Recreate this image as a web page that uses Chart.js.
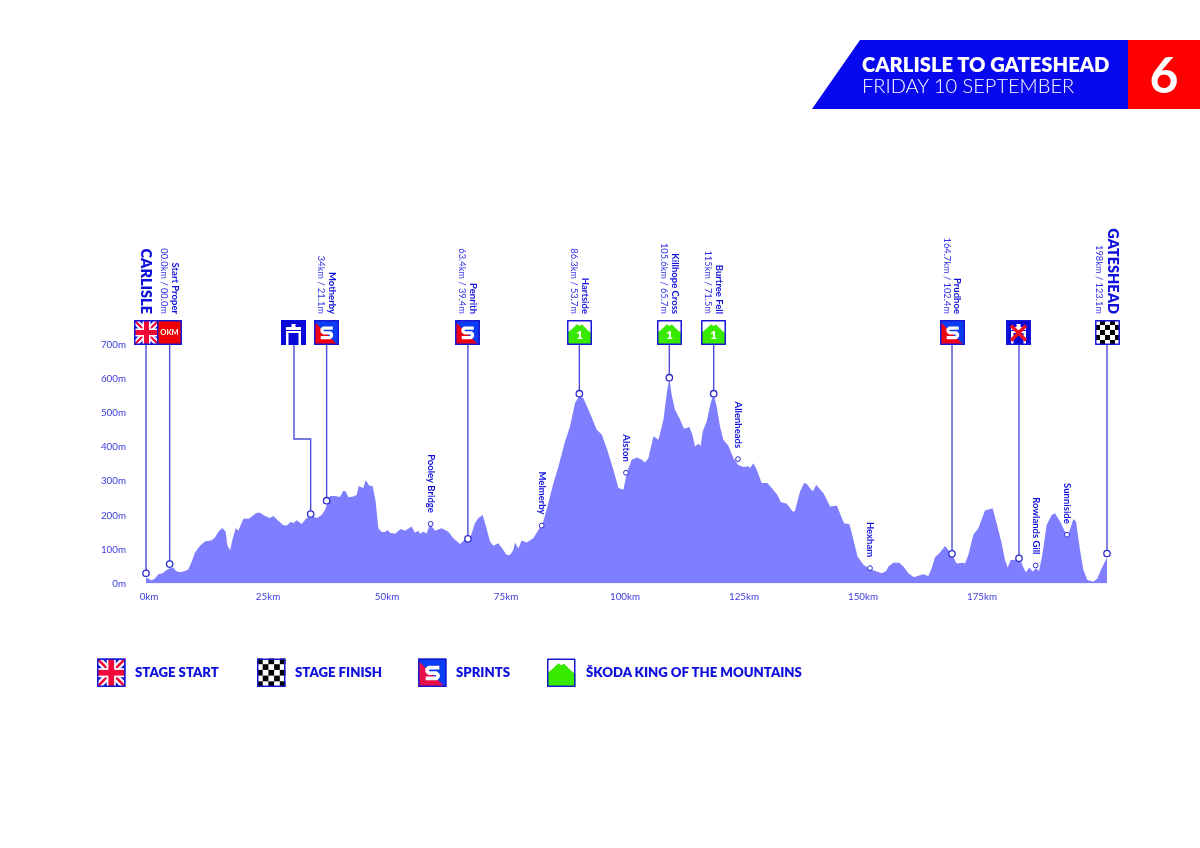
<!DOCTYPE html>
<html>
<head>
<meta charset="utf-8">
<title>Carlisle to Gateshead</title>
<script src="https://cdn.jsdelivr.net/npm/chart.js@4/dist/chart.umd.min.js"></script>
<style>
  html, body { margin: 0; background: #fff; }
  body { position: relative; width: 1200px; height: 848px; overflow: hidden; font-family: Lato, "Noto Sans", sans-serif; }
  canvas { display: block; position: absolute; left: 0; top: 0; }
  .banner { position: absolute; left: 812px; top: 40px; width: 317px; height: 69px; background: #0808ee; clip-path: polygon(48px 0, 100% 0, 100% 100%, 0 100%); }
  .stage-no { position: absolute; left: 1128px; top: 40px; width: 72px; height: 69px; background: #ff0000; color: #fff; font-size: 50px; font-weight: 700; line-height: 69px; text-align: center; }
  .title, .subtitle { position: absolute; left: 862px; color: #fff; white-space: nowrap; }
  .title { top: 52px; font-size: 20.2px; font-weight: 800; line-height: 25px; }
  .subtitle { top: 73px; font-size: 20px; font-weight: 300; line-height: 24px; }
  .legend-label { position: absolute; top: 664px; color: #1010dc; font-size: 13.2px; font-weight: 800; line-height: 16px; white-space: nowrap; }
</style>
</head>
<body>
<canvas id="profile" width="1200" height="848"></canvas>
<div class="banner"></div>
<div class="title">CARLISLE TO GATESHEAD</div>
<div class="subtitle">FRIDAY 10 SEPTEMBER</div>
<div class="stage-no">6</div>
<div class="legend-label" style="left:135px">STAGE START</div>
<div class="legend-label" style="left:295px">STAGE FINISH</div>
<div class="legend-label" style="left:456px">SPRINTS</div>
<div class="legend-label" style="left:586px">ŠKODA KING OF THE MOUNTAINS</div>
<script>
// Elevation profile
const profileKm = [
  -0.63, -0.14, 0.56, 1.26, 1.96, 2.87, 3.57, 4.27, 5.11, 5.67, 6.51, 7.56, 8.26, 8.96, 9.66, 10.71,
  11.76, 13.17, 13.87, 14.57, 15.41, 16.11, 16.46, 17.02, 17.51, 18.21, 18.77, 19.82, 21.08, 22.62, 23.32, 24.37,
  25.42, 26.12, 27.17, 28.22, 28.92, 29.83, 30.32, 31.02, 32.07, 33.12, 34.17, 35.36, 36.27, 36.97, 38.03, 39.08,
  40.13, 40.83, 41.39, 41.88, 42.93, 43.63, 44.05, 45.03, 45.52, 46.29, 46.99, 47.62, 48.18, 48.88, 49.58, 50.14,
  50.63, 51.68, 52.87, 53.78, 55.18, 55.88, 56.58, 56.93, 57.63, 58.33, 59.03, 60.08, 61.48, 62.89, 63.94, 65.34,
  66.39, 67.44, 68.49, 69.19, 70.1, 70.8, 71.64, 72.34, 73.39, 74.44, 75.14, 75.84, 76.54, 76.89, 77.59, 78.29,
  79.34, 80.74, 81.79, 82.84, 83.9, 84.95, 86, 87.4, 88.45, 89.5, 90.41, 91.25, 92.65, 94.06, 95.11, 96.16,
  97.56, 98.62, 99.67, 100.37, 101.42, 102.47, 103.53, 104.23, 104.92, 105.98, 107.03, 108.08, 108.78, 109.31, 109.8, 110.5,
  111.41, 112.39, 113.51, 114.14, 114.7, 115.41, 115.9, 116.32, 117.17, 118, 118.63, 119.26, 119.96, 120.66, 121.71, 122.76,
  123.81, 124.86, 125.92, 126.27, 126.97, 127.67, 128.72, 129.91, 130.82, 132.02, 132.72, 133.98, 135.24, 135.66, 136.78, 137.63,
  138.19, 139.24, 139.6, 140.16, 141.7, 143.1, 144.5, 145.55, 146.04, 147.16, 148, 148.85, 150.1, 151.15, 152.55, 153.96,
  154.87, 155.36, 156.37, 157.64, 158.62, 159.52, 160.71, 161.62, 162.67, 163.72, 164.42, 165.13, 166.18, 167.23, 167.93, 168.62,
  169.68, 170.94, 171.43, 172.13, 173.18, 174.23, 175.63, 177.24, 178.08, 179.13, 179.83, 180.39, 181.02, 181.72, 182.98, 183.54,
  184.24, 184.94, 185.64, 186.34, 186.97, 187.67, 188.58, 189.63, 190.34, 191.39, 192.44, 193.14, 194.19, 194.75, 195.59, 196.29,
  197.13, 198.39, 199.23, 200.14, 201.26
];
const profileElev = [
  17, 15, 9, 15, 27, 30, 38, 44, 47, 37, 33, 37, 41, 64, 91, 111,
  123, 127, 135, 152, 163, 152, 113, 97, 128, 162, 155, 190, 191, 208, 208, 198,
  192, 198, 184, 171, 170, 181, 177, 186, 175, 192, 197, 192, 201, 216, 257, 257,
  254, 272, 269, 253, 255, 260, 286, 280, 303, 287, 286, 241, 162, 151, 151, 157,
  149, 146, 160, 155, 167, 149, 155, 146, 152, 147, 175, 155, 162, 152, 133, 116,
  130, 133, 177, 192, 201, 167, 123, 111, 118, 98, 84, 84, 98, 120, 103, 126,
  120, 133, 157, 182, 236, 294, 343, 417, 461, 530, 551, 544, 500, 451, 437, 397,
  334, 280, 275, 324, 363, 370, 363, 355, 368, 432, 422, 481, 559, 603, 554, 510,
  486, 454, 459, 437, 402, 410, 404, 446, 476, 530, 557, 520, 461, 422, 404, 368,
  348, 342, 344, 339, 353, 334, 295, 295, 280, 260, 239, 234, 211, 211, 270, 295,
  292, 273, 273, 290, 265, 226, 229, 192, 177, 174, 128, 79, 55, 45, 37, 30,
  37, 50, 61, 61, 48, 30, 18, 23, 27, 22, 45, 77, 91, 110, 98, 87,
  59, 61, 59, 84, 143, 162, 214, 221, 177, 118, 69, 47, 69, 69, 74, 51,
  32, 47, 35, 45, 37, 84, 172, 201, 206, 182, 152, 143, 189, 182, 98, 40,
  10, 5, 15, 45, 76
];

const kmTicks = [0, 25, 50, 75, 100, 125, 150, 175];
const elevTicks = [0, 100, 200, 300, 400, 500, 600, 700];

// Stops with a signpost icon
const stopNames = ['CARLISLE', 'Start Proper', 'Motherby', 'Penrith', 'Hartside', 'Killhope Cross', 'Burtree Fell', 'Prudhoe', '', 'GATESHEAD'];
const stopDistances = ['', '00.0km / 00.0m', '34km / 21.1m', '63.4km / 39.4m', '86.3km / 53.7m', '105.6km / 65.7m', '115km / 71.5m', '164.7km / 102.4m', '', '198km / 123.1m'];
const stopIcons = ['flag', 'okm', 'sprint', 'sprint', 'kom', 'kom', 'kom', 'sprint', 'nofeed', 'finish'];
const stopKm = [-0.63, 4.34, 37.32, 67, 90.41, 109.31, 118.63, 168.7, 182.77, 201.26];
const stopElev = [30, 57, 243, 131, 557, 604, 557, 87, 74, 88];

// Feed zone: the line leaves the icon, steps sideways, then drops to the road
const feedKm = [30.46, 33.96];
const feedStepElev = 424;
const feedElev = 204;

// Places with only a small dot
const townNames = ['Pooley Bridge', 'Melmerby', 'Alston', 'Allenheads', 'Hexham', 'Rowlands Gill', 'Sunniside'];
const townKm = [59.17, 82.49, 100.2, 123.74, 151.47, 186.27, 192.86];
const townElev = [175, 170, 325, 365, 45, 53, 143];

const LINE_BLUE = '#4c4cd8';
const FONT = 'Lato, "Noto Sans", sans-serif';

/**
 * Icon painters, all work in a box of side s at (x, y)
 */
function box(ctx, x, y, s, fill) {
  ctx.fillStyle = fill;
  ctx.fillRect(x, y, s, s);
}

function frame(ctx, x, y, s) {
  ctx.strokeStyle = '#1818d0';
  ctx.lineWidth = 1.5;
  ctx.strokeRect(x + 0.75, y + 0.75, s - 1.5, s - 1.5);
}

function drawFlag(ctx, x, y, s) {
  box(ctx, x, y, s, '#1010d8');
  ctx.save();
  ctx.beginPath();
  ctx.rect(x, y, s, s);
  ctx.clip();
  const diagonal = (color, width) => {
    ctx.strokeStyle = color;
    ctx.lineWidth = width;
    ctx.beginPath();
    ctx.moveTo(x, y);
    ctx.lineTo(x + s, y + s);
    ctx.moveTo(x + s, y);
    ctx.lineTo(x, y + s);
    ctx.stroke();
  };
  diagonal('#fff', s * 0.24);
  diagonal('#f0083a', s * 0.09);
  ctx.fillStyle = '#fff';
  ctx.fillRect(x + s * 0.34, y, s * 0.32, s);
  ctx.fillRect(x, y + s * 0.34, s, s * 0.32);
  ctx.fillStyle = '#f0083a';
  ctx.fillRect(x + s * 0.4, y, s * 0.2, s);
  ctx.fillRect(x, y + s * 0.4, s, s * 0.2);
  ctx.restore();
  frame(ctx, x, y, s);
}

function drawOkm(ctx, x, y, s) {
  box(ctx, x, y, s, '#f00000');
  frame(ctx, x, y, s);
  ctx.fillStyle = '#fff';
  ctx.font = `700 ${s * 0.3}px ${FONT}`;
  ctx.textAlign = 'center';
  ctx.textBaseline = 'middle';
  ctx.fillText('OKM', x + s / 2, y + s / 2 + 0.5);
}

function drawSprint(ctx, x, y, s, red) {
  box(ctx, x, y, s, '#0a3cf5');
  ctx.fillStyle = red || '#f00010';
  ctx.beginPath();
  ctx.moveTo(x, y + s * 0.06);
  ctx.lineTo(x + s * 0.95, y + s);
  ctx.lineTo(x, y + s);
  ctx.closePath();
  ctx.fill();
  frame(ctx, x, y, s);
  ctx.strokeStyle = '#fff';
  ctx.lineWidth = s * 0.13;
  ctx.lineJoin = 'round';
  ctx.beginPath();
  ctx.moveTo(x + s * 0.75, y + s * 0.32);
  ctx.lineTo(x + s * 0.38, y + s * 0.32);
  ctx.lineTo(x + s * 0.32, y + s * 0.38);
  ctx.lineTo(x + s * 0.32, y + s * 0.45);
  ctx.lineTo(x + s * 0.38, y + s * 0.51);
  ctx.lineTo(x + s * 0.64, y + s * 0.51);
  ctx.lineTo(x + s * 0.7, y + s * 0.57);
  ctx.lineTo(x + s * 0.7, y + s * 0.64);
  ctx.lineTo(x + s * 0.64, y + s * 0.7);
  ctx.lineTo(x + s * 0.27, y + s * 0.7);
  ctx.stroke();
}

function drawKom(ctx, x, y, s, noNumber) {
  box(ctx, x, y, s, '#fff');
  ctx.fillStyle = '#38ea00';
  ctx.beginPath();
  ctx.moveTo(x, y + s * 0.52);
  ctx.lineTo(x + s * 0.18, y + s * 0.38);
  ctx.lineTo(x + s * 0.4, y + s * 0.17);
  ctx.lineTo(x + s * 0.5, y + s * 0.24);
  ctx.lineTo(x + s * 0.6, y + s * 0.18);
  ctx.lineTo(x + s * 0.82, y + s * 0.4);
  ctx.lineTo(x + s, y + s * 0.55);
  ctx.lineTo(x + s, y + s);
  ctx.lineTo(x, y + s);
  ctx.closePath();
  ctx.fill();
  frame(ctx, x, y, s);
  if (noNumber === true) return;
  ctx.fillStyle = '#fff';
  ctx.font = `800 ${s * 0.46}px ${FONT}`;
  ctx.textAlign = 'center';
  ctx.textBaseline = 'middle';
  ctx.fillText('1', x + s / 2, y + s * 0.6);
}

function drawFeed(ctx, x, y, s) {
  box(ctx, x, y, s, '#0808d8');
  ctx.fillStyle = '#fff';
  ctx.beginPath();
  ctx.moveTo(x + s * 0.2, y + s * 0.28);
  ctx.lineTo(x + s * 0.42, y + s * 0.28);
  ctx.lineTo(x + s * 0.42, y + s * 0.16);
  ctx.lineTo(x + s * 0.58, y + s * 0.16);
  ctx.lineTo(x + s * 0.58, y + s * 0.28);
  ctx.lineTo(x + s * 0.8, y + s * 0.28);
  ctx.lineTo(x + s * 0.8, y + s * 0.4);
  ctx.lineTo(x + s * 0.2, y + s * 0.4);
  ctx.closePath();
  ctx.fill();
  ctx.fillRect(x + s * 0.2, y + s * 0.44, s * 0.1, s * 0.56);
  ctx.fillRect(x + s * 0.7, y + s * 0.44, s * 0.1, s * 0.56);
  ctx.fillRect(x + s * 0.2, y + s * 0.44, s * 0.6, s * 0.08);
}

function drawNoFeed(ctx, x, y, s) {
  drawFeed(ctx, x, y, s);
  frame(ctx, x, y, s);
  ctx.strokeStyle = '#f01020';
  ctx.lineWidth = s * 0.14;
  ctx.beginPath();
  ctx.moveTo(x + s * 0.2, y + s * 0.22);
  ctx.lineTo(x + s * 0.8, y + s * 0.82);
  ctx.moveTo(x + s * 0.8, y + s * 0.22);
  ctx.lineTo(x + s * 0.2, y + s * 0.82);
  ctx.stroke();
}

function drawFinish(ctx, x, y, s, blackFirst) {
  box(ctx, x, y, s, '#fff');
  ctx.fillStyle = '#000';
  const cell = s / 5;
  const offset = blackFirst === true ? 0 : 1;
  for (let row = 0; row < 5; row++) {
    for (let col = 0; col < 5; col++) {
      if ((row + col + offset) % 2 === 0) ctx.fillRect(x + col * cell, y + row * cell, cell, cell);
    }
  }
  frame(ctx, x, y, s);
}

const painters = {
  flag: drawFlag, okm: drawOkm, sprint: drawSprint, kom: drawKom,
  feed: drawFeed, nofeed: drawNoFeed, finish: drawFinish
};

/**
 * Text that reads top to bottom and stops at yEnd
 */
function verticalText(ctx, text, x, yEnd, font, color) {
  ctx.save();
  ctx.translate(x, yEnd);
  ctx.rotate(Math.PI / 2);
  ctx.font = font;
  ctx.fillStyle = color;
  ctx.textAlign = 'right';
  ctx.textBaseline = 'middle';
  ctx.fillText(text, 0, 0);
  ctx.restore();
}

const stagePlugin = {
  id: 'stageMarks',
  afterDraw(chart) {
    const { ctx, scales } = chart;
    const iconTop = scales.y.getPixelForValue(700) - 25;
    const labelEnd = iconTop - 6;
    ctx.save();

    // signpost icons on top of the stems
    stopKm.forEach((km, i) => {
      const px = scales.x.getPixelForValue(km);
      painters[stopIcons[i]](ctx, Math.round(px - 12.5), iconTop, 25);
      if (!stopNames[i]) return;
      if (stopNames[i] === stopNames[i].toUpperCase()) {
        const nameX = stopDistances[i] ? px + 6 : px;
        verticalText(ctx, stopNames[i], nameX, labelEnd, `800 14.5px ${FONT}`, '#1010dc');
        if (stopDistances[i]) verticalText(ctx, stopDistances[i], px - 8, labelEnd, `400 9.3px ${FONT}`, '#3030e8');
      } else {
        verticalText(ctx, stopNames[i], px + 5.5, labelEnd, `700 9.5px ${FONT}`, '#1010dc');
        verticalText(ctx, stopDistances[i], px - 5.5, labelEnd, `400 9.3px ${FONT}`, '#3030e8');
      }
    });
    painters.feed(ctx, Math.round(scales.x.getPixelForValue(feedKm[0]) - 12.5), iconTop, 25);

    // small place names above their dots
    townKm.forEach((km, i) => {
      verticalText(ctx, townNames[i], scales.x.getPixelForValue(km), scales.y.getPixelForValue(townElev[i]) - 11,
        `700 9.5px ${FONT}`, '#1010dc');
    });

    // legend icons
    const legendTop = 658.5;
    painters.flag(ctx, 97, legendTop, 28.5);
    painters.finish(ctx, 257, legendTop, 28.5, true);
    painters.sprint(ctx, 418, legendTop, 28.5, '#e8104a');
    painters.kom(ctx, 547, legendTop, 28.5, true);
    ctx.restore();
  }
};

// Stems run from the icon row (700m) down to the road, gaps split them
const stemData = [];
stopKm.forEach((km, i) => {
  stemData.push({ x: km, y: 700 }, { x: km, y: stopElev[i] }, { x: km, y: null });
});
stemData.push(
  { x: feedKm[0], y: 700 },
  { x: feedKm[0], y: feedStepElev },
  { x: feedKm[1], y: feedStepElev },
  { x: feedKm[1], y: feedElev }
);

new Chart(document.getElementById('profile'), {
  type: 'line',
  data: {
    datasets: [
      {
        label: 'Stop dots',
        data: stopKm.map((km, i) => ({ x: km, y: stopElev[i] })).concat({ x: feedKm[1], y: feedElev }),
        showLine: false,
        pointRadius: 3.2,
        pointBorderWidth: 1.3,
        pointBackgroundColor: '#fff',
        pointBorderColor: '#2a2ad0',
        clip: false,
        order: 1
      },
      {
        label: 'Town dots',
        data: townKm.map((km, i) => ({ x: km, y: townElev[i] })),
        showLine: false,
        pointRadius: 2.4,
        pointBorderWidth: 1,
        pointBackgroundColor: '#fff',
        pointBorderColor: '#2a2ad0',
        clip: false,
        order: 1
      },
      {
        label: 'Stems',
        data: stemData,
        borderColor: LINE_BLUE,
        borderWidth: 1.4,
        pointRadius: 0,
        spanGaps: false,
        clip: false,
        order: 2
      },
      {
        label: 'Elevation',
        data: profileKm.map((km, i) => ({ x: km, y: profileElev[i] })),
        fill: 'origin',
        backgroundColor: '#7e7eff',
        borderWidth: 0,
        pointRadius: 0,
        tension: 0,
        order: 3
      }
    ]
  },
  options: {
    responsive: false,
    animation: false,
    events: [],
    layout: { padding: { left: 0, top: 345, right: 93, bottom: 0 } },
    plugins: {
      legend: { display: false },
      tooltip: { enabled: false }
    },
    scales: {
      x: {
        type: 'linear',
        min: -0.63,
        max: 201.26,
        border: { display: false },
        grid: { display: false, drawTicks: false },
        afterBuildTicks: axis => { axis.ticks = kmTicks.map(value => ({ value })); },
        afterFit: axis => { axis.height = 264.5; },
        ticks: {
          color: '#3c3cdc',
          font: { family: FONT, size: 9.8 },
          padding: 7,
          maxRotation: 0,
          autoSkip: false,
          callback: value => `${value}km`
        }
      },
      y: {
        min: 0,
        max: 700,
        border: { display: false },
        grid: { display: false, drawTicks: false },
        afterBuildTicks: axis => { axis.ticks = elevTicks.map(value => ({ value })); },
        afterFit: axis => { axis.width = 146; },
        ticks: {
          color: '#3c3cdc',
          font: { family: FONT, size: 9.8 },
          padding: 20,
          autoSkip: false,
          callback: value => `${value}m`
        }
      }
    }
  },
  plugins: [stagePlugin]
});
</script>
</body>
</html>
